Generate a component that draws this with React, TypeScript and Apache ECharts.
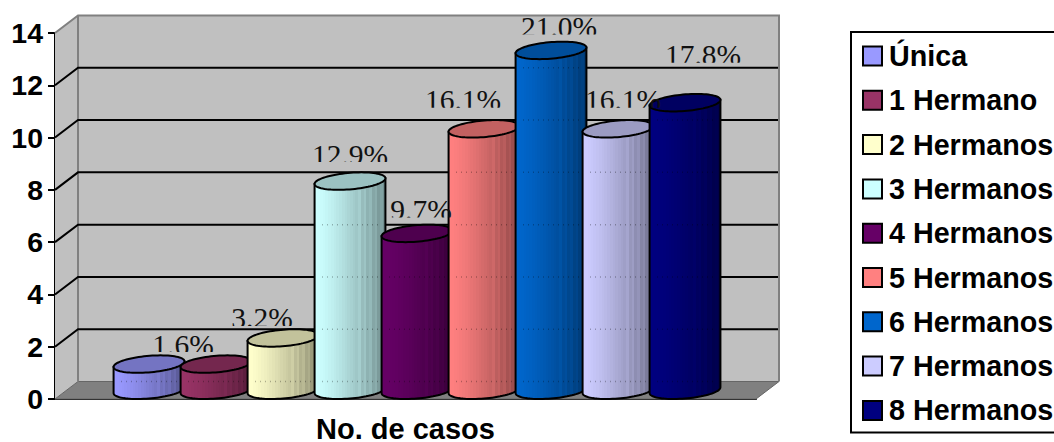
import React, { useEffect, useRef } from "react";
import * as echarts from "echarts";

// Number of cases per sibling group
const groupNames = [
  "Única",
  "1 Hermano",
  "2 Hermanos",
  "3 Hermanos",
  "4 Hermanos",
  "5 Hermanos",
  "6 Hermanos",
  "7 Hermanos",
  "8 Hermanos",
];
const caseCounts = [1, 1, 2, 8, 6, 10, 13, 10, 11];
const percentLabels = [null, "1.6%", "3.2%", "12.9%", "9.7%", "16.1%", "21.0%", "16.1%", "17.8%"];
const groupColors = [
  [0x99, 0x99, 0xff],
  [0x99, 0x33, 0x66],
  [0xff, 0xff, 0xcc],
  [0xcc, 0xff, 0xff],
  [0x66, 0x00, 0x66],
  [0xff, 0x80, 0x80],
  [0x00, 0x66, 0xcc],
  [0xcc, 0xcc, 0xff],
  [0x00, 0x00, 0x80],
];
const yTicks = [0, 2, 4, 6, 8, 10, 12, 14];
const categoryLabels = ["No. de casos"];

// Hand placement of each percentage, relative to the cylinder's top centre
const labelNudges = [
  [0, 0],
  [-33, -12],
  [-21, -12],
  [0, -19],
  [4, -16],
  [-21, -21],
  [8, -16],
  [5, -21],
  [18, -40],
];

// Oblique projection of the chart's depth axis, in pixels
const DEPTH_X = 23;
const DEPTH_Y = 17.5;
// Cylinder width in the plane of the axis
const CYLINDER_WIDTH = 67;
// Distance from the text box bottom to where the percentages are cut off
const LABEL_DROP = 7.5;
const SANS = "'Liberation Sans', Arial, sans-serif";
const SERIF = "'Liberation Serif', 'Times New Roman', serif";

const rgb = (c: number[], k: number) =>
  `rgb(${c.map((v) => Math.min(255, Math.round(v * k))).join(",")})`;

// Stepped shading that runs from the lit left side to the dark right side
function bandedFill(color: number[]) {
  const count = 26;
  const stops: { offset: number; color: string }[] = [];
  for (let k = 0; k < count; k++) {
    const u = k / (count - 1);
    const stripe = u > 0.62 && k % 2 === 0 ? 0.05 : 0;
    const shade = 1 - 0.44 * Math.pow(u, 1.35) + stripe;
    const fill = rgb(color, shade);
    stops.push({ offset: k / count, color: fill });
    stops.push({ offset: (k + 1) / count, color: fill });
  }
  return new echarts.graphic.LinearGradient(0, 0, 1, 0, stops);
}

function renderCylinder(index: number) {
  return (_params: any, api: any) => {
    const value = api.value(1);
    const [bandCentre, top] = api.coord([0, value]);
    const [, base] = api.coord([0, 0]);
    const cx = bandCentre + (index - 4) * CYLINDER_WIDTH + DEPTH_X / 2;
    const topY = top - DEPTH_Y / 2;
    const baseY = base - DEPTH_Y / 2;
    const a = CYLINDER_WIDTH / 2;
    const bx = DEPTH_X / 2;
    const by = DEPTH_Y / 2;
    const at = (t: number, y: number) => [
      cx + a * Math.cos(t) + bx * Math.sin(t),
      y - by * Math.sin(t),
    ];
    const rim = Math.atan2(bx, a);
    const steps = 40;
    const frontArc: number[][] = [];
    for (let s = 0; s <= steps; s++) {
      frontArc.push(at(rim + Math.PI + (Math.PI * s) / steps, baseY));
    }
    const topRing: number[][] = [];
    for (let s = 0; s < steps * 2; s++) {
      topRing.push(at((Math.PI * s) / steps, topY));
    }
    const body = [...frontArc, at(rim, topY), at(rim + Math.PI, topY)];
    const color = groupColors[index];
    const children: any[] = [
      {
        type: "polygon",
        shape: { points: body },
        style: { fill: bandedFill(color), stroke: "#000", lineWidth: 2 },
      },
    ];
    // Faint dotted trace of the back-wall grid lines on the cylinder's face
    yTicks
      .filter((t) => t < value - 0.5)
      .forEach((t) => {
        const y = api.coord([0, t])[1] - DEPTH_Y;
        children.push({
          type: "line",
          shape: { x1: cx - 28, y1: y, x2: cx + 32, y2: y },
          style: { stroke: "rgba(0,0,0,0.28)", lineWidth: 1.5, lineDash: [1, 4] },
        });
      });
    children.push({
      type: "polygon",
      shape: { points: topRing },
      style: { fill: rgb(color, 0.76), stroke: "#000", lineWidth: 2 },
    });
    const label = percentLabels[index];
    if (label) {
      const [nx, ny] = labelNudges[index];
      children.push({
        type: "text",
        z2: 100,
        x: cx + nx,
        y: topY + ny + LABEL_DROP,
        style: {
          text: label,
          font: `29.5px ${SERIF}`,
          fill: "#111",
          align: "center",
          verticalAlign: "bottom",
        },
        clipPath: { type: "rect", shape: { x: -60, y: -50, width: 120, height: 50 - LABEL_DROP } },
      });
    }
    return { type: "group", children };
  };
}

// Side wall, back wall, floor and the receding grid lines
function renderWalls(params: any, api: any) {
  const value = api.value(1);
  const [centre, y] = api.coord([0, value]);
  const half = api.size([1, 0])[0] / 2;
  const left = centre - half;
  const right = centre + half;
  const grid = "#000";
  const children: any[] = [];
  if (params.dataIndex === 0) {
    const y14 = api.coord([0, yTicks[yTicks.length - 1]])[1];
    const backTop = y14 - DEPTH_Y;
    const backBottom = y - DEPTH_Y;
    const backLeft = left + DEPTH_X;
    const backRight = right + DEPTH_X;
    children.push(
      {
        type: "polygon",
        shape: { points: [[backLeft, backTop], [backRight, backTop], [backRight, backBottom], [backLeft, backBottom]] },
        style: { fill: "#c0c0c0" },
      },
      {
        type: "polygon",
        shape: { points: [[left, y14], [backLeft, backTop], [backLeft, backBottom], [left, y]] },
        style: { fill: "#c0c0c0" },
      },
      {
        type: "polygon",
        shape: { points: [[left, y], [backLeft, backBottom], [backRight, backBottom], [right, y]] },
        style: { fill: "#808080", stroke: "#666", lineWidth: 1 },
      },
      {
        type: "polyline",
        shape: { points: [[left, y14], [backLeft, backTop], [backRight, backTop], [backRight, backBottom]] },
        style: { fill: "none", stroke: "#808080", lineWidth: 2 },
      },
      {
        type: "line",
        shape: { x1: backLeft, y1: backTop, x2: backLeft, y2: backBottom },
        style: { stroke: "#808080", lineWidth: 2 },
      }
    );
  } else if (value < yTicks[yTicks.length - 1]) {
    children.push({
      type: "polyline",
      shape: { points: [[left, y], [left + DEPTH_X, y - DEPTH_Y], [right + DEPTH_X - 1, y - DEPTH_Y]] },
      style: { fill: "none", stroke: grid, lineWidth: 2 },
    });
  }
  return { type: "group", children };
}

export default function App() {
  const ref = useRef<HTMLDivElement>(null);

  useEffect(() => {
    const chart = echarts.init(ref.current!, undefined, { renderer: "svg" });
    chart.setOption({
      animation: false,
      backgroundColor: "#fff",
      grid: { left: 55, right: 298, top: 33, bottom: 43, outerBoundsMode: "none" },
      legend: {
        left: 851,
        top: 32,
        orient: "vertical",
        selectedMode: false,
        padding: [9, 12, 7, 11],
        itemGap: 14.3,
        itemWidth: 19,
        itemHeight: 19,
        borderColor: "#000",
        borderWidth: 2,
        backgroundColor: "#fff",
        textStyle: {
          fontFamily: SANS,
          fontWeight: "bold",
          fontSize: 28.7,
          lineHeight: 30,
          color: "#000",
          padding: [0, 0, 0, 2],
        },
        data: groupNames.map((name, i) => ({
          name,
          icon: "rect",
          itemStyle: { color: rgb(groupColors[i], 1), borderColor: "#000", borderWidth: 2 },
        })),
      },
      xAxis: {
        type: "category",
        data: categoryLabels,
        axisLine: { lineStyle: { color: "#000", width: 2 } },
        axisTick: { length: 8, lineStyle: { color: "#000", width: 2 } },
        axisLabel: {
          margin: 21,
          lineHeight: 18,
          color: "#000",
          fontFamily: SANS,
          fontWeight: "bold",
          fontSize: 29,
        },
      },
      yAxis: {
        type: "value",
        min: 0,
        max: 14,
        interval: 2,
        splitLine: { show: false },
        axisLine: { show: true, lineStyle: { color: "#000", width: 2 } },
        axisTick: { show: true, length: 7, lineStyle: { color: "#000", width: 2 } },
        axisLabel: {
          margin: 12,
          color: "#000",
          fontFamily: SANS,
          fontWeight: "bold",
          fontSize: 28.5,
        },
      },
      series: [
        {
          name: "walls",
          type: "custom",
          silent: true,
          clip: false,
          z: 1,
          data: yTicks.map((v) => [0, v]),
          renderItem: renderWalls,
        },
        ...groupNames.map((name, i) => ({
          name,
          type: "custom",
          silent: true,
          clip: false,
          z: 2,
          itemStyle: { color: rgb(groupColors[i], 1) },
          data: [[0, caseCounts[i]]],
          renderItem: renderCylinder(i),
        })),
      ],
    });
    return () => chart.dispose();
  }, []);

  return (
    <div
      ref={ref}
      style={{ position: "absolute", left: 0, top: 0, width: 1054, height: 442 }}
    />
  );
}
